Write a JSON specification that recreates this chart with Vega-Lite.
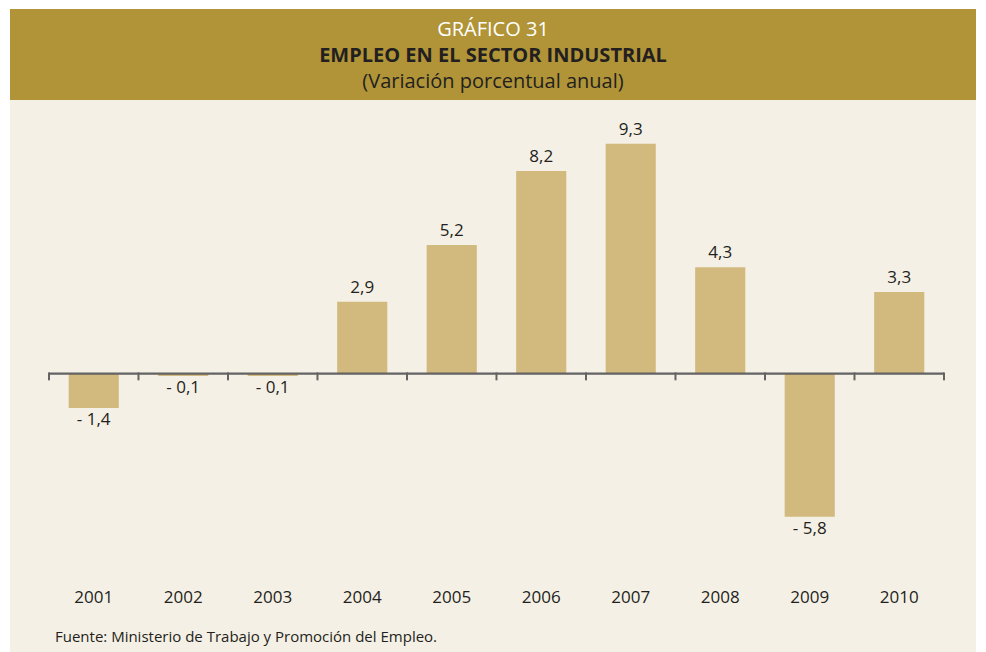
{
  "$schema": "https://vega.github.io/schema/vega-lite/v6.json",
  "background": "white",
  "padding": {"left": 10, "top": 9, "right": 10, "bottom": 0},
  "spacing": 0,
  "config": {
    "view": {"stroke": null},
    "font": "Open Sans",
    "locale": {"number": {"decimal": ",", "thousands": ".", "grouping": [3], "currency": ["", ""], "minus": "- "}},
    "axisX": {"domain": false, "ticks": false, "grid": false, "labelPadding": 0, "offset": -63, "labelFontSize": 17, "labelFontWeight": 500, "labelColor": "#231f20", "labelAngle": 0, "labelFont": "Open Sans", "labelBaseline": "top"}
  },
  "vconcat": [
    {
      "width": 966,
      "height": 91,
      "view": {"fill": "#b09437", "stroke": null},
      "layer": [
        {
          "data": {"values": [{"line": 1, "t": "GRÁFICO 31"}]},
          "mark": {"type": "text", "color": "#ffffff", "fontSize": 20, "fontWeight": "normal", "baseline": "middle", "dy": 1.5},
          "encoding": {"y": {"field": "line", "type": "ordinal", "scale": {"type": "point", "domain": [1, 2, 3], "padding": 0.77}, "axis": null}, "text": {"field": "t"}}
        },
        {
          "data": {"values": [{"line": 2, "t": "EMPLEO EN EL SECTOR INDUSTRIAL"}]},
          "mark": {"type": "text", "color": "#231f20", "fontSize": 20, "fontWeight": "bold", "baseline": "middle", "dy": 1.5},
          "encoding": {"y": {"field": "line", "type": "ordinal", "scale": {"type": "point", "domain": [1, 2, 3], "padding": 0.77}, "axis": null}, "text": {"field": "t"}}
        },
        {
          "data": {"values": [{"line": 3, "t": "(Variación porcentual anual)"}]},
          "mark": {"type": "text", "color": "#231f20", "fontSize": 20, "fontWeight": "normal", "baseline": "middle", "dy": 1.5},
          "encoding": {"y": {"field": "line", "type": "ordinal", "scale": {"type": "point", "domain": [1, 2, 3], "padding": 0.77}, "axis": null}, "text": {"field": "t"}}
        }
      ]
    },
    {
      "width": 966,
      "height": 552,
      "view": {"fill": "#f5f0e5", "stroke": null},
      "data": {"values": [
        {"year": "2001", "value": -1.4},
        {"year": "2002", "value": -0.1},
        {"year": "2003", "value": -0.1},
        {"year": "2004", "value": 2.9},
        {"year": "2005", "value": 5.2},
        {"year": "2006", "value": 8.2},
        {"year": "2007", "value": 9.3},
        {"year": "2008", "value": 4.3},
        {"year": "2009", "value": -5.8},
        {"year": "2010", "value": 3.3}
      ]},
      "layer": [
        {
          "mark": {"type": "bar", "color": "#d2b97d", "width": {"band": 0.56}},
          "encoding": {
            "x": {"field": "year", "type": "ordinal", "title": null, "scale": {"type": "band", "paddingInner": 0, "paddingOuter": 0.3966, "align": 0.549}},
            "y": {"field": "value", "type": "quantitative", "axis": null, "scale": {"domain": [-11.28, 11.07], "nice": false, "zero": false}}
          }
        },
        {
          "mark": {"type": "rect", "color": "#636363"},
          "encoding": {
            "x": {"field": "year", "type": "ordinal", "title": null},
            "y": {"datum": 0.04, "type": "quantitative"},
            "y2": {"datum": -0.05}
          }
        },
        {
          "mark": {"type": "rule", "color": "#636363", "strokeWidth": 2},
          "encoding": {
            "x": {"field": "year", "type": "ordinal", "title": null, "bandPosition": 0},
            "y": {"datum": 0.04, "type": "quantitative"},
            "y2": {"datum": -0.28}
          }
        },
        {
          "transform": [{"filter": "datum.year == '2010'"}],
          "mark": {"type": "rule", "color": "#636363", "strokeWidth": 2},
          "encoding": {
            "x": {"field": "year", "type": "ordinal", "title": null, "bandPosition": 1},
            "y": {"datum": 0.04, "type": "quantitative"},
            "y2": {"datum": -0.28}
          }
        },
        {
          "transform": [{"filter": "datum.value >= 0"}],
          "mark": {"type": "text", "baseline": "alphabetic", "dy": -9, "fontSize": 17, "fontWeight": 500, "color": "#231f20"},
          "encoding": {
            "x": {"field": "year", "type": "ordinal", "title": null},
            "y": {"field": "value", "type": "quantitative"},
            "text": {"field": "value", "type": "quantitative", "format": ".1f"}
          }
        },
        {
          "transform": [{"filter": "datum.value < 0"}],
          "mark": {"type": "text", "baseline": "top", "dy": 4, "fontSize": 17, "fontWeight": 500, "color": "#231f20"},
          "encoding": {
            "x": {"field": "year", "type": "ordinal", "title": null},
            "y": {"field": "value", "type": "quantitative"},
            "text": {"field": "value", "type": "quantitative", "format": ".1f"}
          }
        },
        {
          "data": {"values": [{"year": "2001", "note": "Fuente: Ministerio de Trabajo y Promoción del Empleo."}]},
          "mark": {"type": "text", "align": "left", "baseline": "middle", "dx": 6, "fontSize": 15, "color": "#231f20"},
          "encoding": {
            "x": {"field": "year", "type": "ordinal", "title": null, "bandPosition": 0},
            "y": {"datum": -10.67, "type": "quantitative"},
            "text": {"field": "note"}
          }
        }
      ]
    }
  ]
}
